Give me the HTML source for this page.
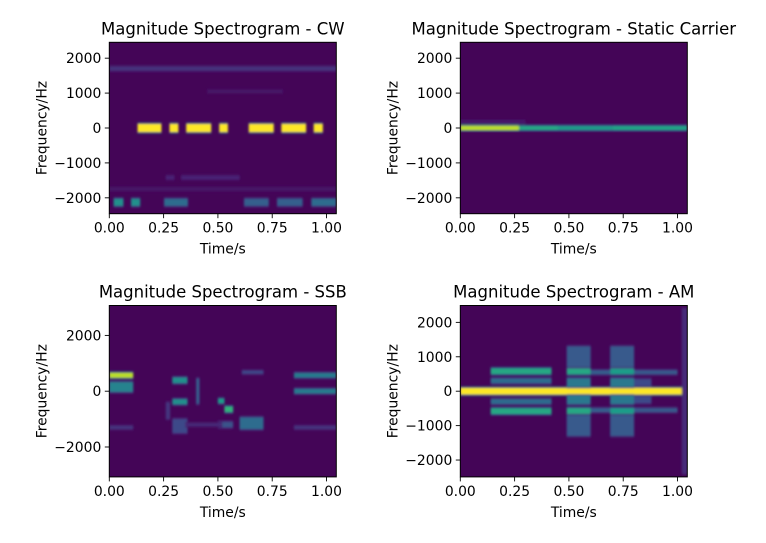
<!DOCTYPE html>
<html><head><meta charset="utf-8">
<style>
html,body{margin:0;padding:0;background:#fff;}
svg{display:block;font-family:"DejaVu Sans","Liberation Sans",sans-serif;}
</style></head>
<body>
<svg id="fig" width="766" height="543" viewBox="0 0 766 543" xmlns="http://www.w3.org/2000/svg">
<defs>
<filter id="blur" x="-5%" y="-5%" width="110%" height="110%"><feGaussianBlur stdDeviation="1.1"/></filter>
</defs>
</svg>
<script>
// ---- shared axis data ----
const timeTicks = [0, 0.25, 0.5, 0.75, 1.0];
const timeTickLabels = ["0.00", "0.25", "0.50", "0.75", "1.00"];
const timeMax = 1.045;

// ---- CW panel ----
const cwStart = [0.13, 0.277, 0.354, 0.506, 0.642, 0.792, 0.941, 0.02, 0.10, 0.252, 0.62, 0.772, 0.93, 0.0, 0.26, 0.33, 0.45, 0.0];
const cwEnd   = [0.24, 0.318, 0.469, 0.546, 0.757, 0.906, 0.983, 0.065, 0.142, 0.362, 0.734, 0.89, 1.045, 1.045, 0.30, 0.60, 0.80, 1.045];
const cwFreq  = [0, 0, 0, 0, 0, 0, 0, -2130, -2130, -2130, -2130, -2130, -2130, 1700, -1420, -1420, 1050, -1750];
const cwBand  = [230, 230, 230, 230, 230, 230, 230, 200, 200, 200, 200, 200, 200, 120, 110, 110, 90, 90];
const cwLevel = [1.0, 1.0, 1.0, 1.0, 1.0, 1.0, 1.0, 0.5, 0.5, 0.35, 0.3, 0.3, 0.35, 0.14, 0.1, 0.1, 0.06, 0.06];
const cwYTicks = [-2000, -1000, 0, 1000, 2000];

// ---- Static carrier panel ----
const stStart = [0.0, 0.27, 0.45, 0.7, 0.0];
const stEnd   = [0.27, 0.45, 0.7, 1.045, 0.3];
const stFreq  = [0, 0, 0, 0, 180];
const stBand  = [130, 120, 120, 120, 60];
const stLevel = [0.9, 0.6, 0.55, 0.58, 0.08];
const stYTicks = [-2000, -1000, 0, 1000, 2000];

// ---- SSB panel ----
const ssbStart = [0.0, 0.0, 0.0, 0.29, 0.29, 0.29, 0.40, 0.50, 0.53, 0.50, 0.60, 0.61, 0.85, 0.85, 0.85, 0.35, 0.26];
const ssbEnd   = [0.11, 0.11, 0.11, 0.36, 0.36, 0.36, 0.415, 0.53, 0.57, 0.57, 0.71, 0.71, 1.045, 1.045, 1.045, 0.52, 0.28];
const ssbFreq  = [570, 150, -1300, 390, -380, -1250, 0, -350, -650, -1200, -1150, 680, 570, 0, -1300, -1200, -700];
const ssbBand  = [180, 350, 120, 200, 180, 500, 900, 160, 200, 200, 420, 100, 160, 160, 120, 100, 600];
const ssbLevel = [0.9, 0.45, 0.15, 0.5, 0.5, 0.22, 0.3, 0.55, 0.65, 0.25, 0.35, 0.22, 0.42, 0.42, 0.15, 0.12, 0.15];
const ssbYTicks = [-2000, 0, 2000];

// ---- AM panel ----
const amStart = [0.0, 0.14, 0.14, 0.14, 0.14, 0.49, 0.49, 0.49, 0.49, 0.49, 0.49, 0.69, 0.69, 0.69, 0.69, 0.69, 0.69, 0.60, 0.60, 0.80, 0.80, 0.80, 0.80, 1.02];
const amEnd   = [1.045, 0.42, 0.42, 0.42, 0.42, 0.60, 0.60, 0.60, 0.60, 0.60, 0.60, 0.80, 0.80, 0.80, 0.80, 0.80, 0.80, 0.69, 0.69, 1.0, 1.0, 0.88, 0.88, 1.045];
const amFreq  = [0, 580, -580, 300, -300, 580, -580, 1000, -1000, 250, -250, 580, -580, 1000, -1000, 250, -250, 550, -550, 550, -550, 250, -250, 0];
const amBand  = [190, 170, 170, 140, 140, 180, 180, 600, 600, 250, 250, 180, 180, 600, 600, 250, 250, 110, 110, 110, 110, 200, 200, 4800];
const amLevel = [1.0, 0.6, 0.6, 0.35, 0.35, 0.6, 0.6, 0.28, 0.28, 0.4, 0.4, 0.55, 0.55, 0.28, 0.28, 0.4, 0.4, 0.3, 0.3, 0.28, 0.28, 0.22, 0.22, 0.12];
const amYTicks = [-2000, -1000, 0, 1000, 2000];

const viridis = [[68,1,84],[72,40,120],[62,74,137],[49,104,142],[38,130,142],[31,158,137],[53,183,121],[109,205,89],[180,222,44],[253,231,37]];
function vcol(v){
  v = Math.max(0, Math.min(1, v));
  const p = v*(viridis.length-1), i = Math.min(viridis.length-2, Math.floor(p)), f = p-i;
  const a = viridis[i], b = viridis[i+1];
  return `rgb(${Math.round(a[0]+(b[0]-a[0])*f)},${Math.round(a[1]+(b[1]-a[1])*f)},${Math.round(a[2]+(b[2]-a[2])*f)})`;
}
const NS = "http://www.w3.org/2000/svg";
const svg = document.getElementById('fig');
function mk(tag, attrs, parent){
  const e = document.createElementNS(NS, tag);
  for (const k in attrs) e.setAttribute(k, attrs[k]);
  (parent||svg).appendChild(e);
  return e;
}

function panel(key, ox, oy, w, h, fmax, title, starts, ends, freqs, bands, levels, yticks){
  const g = mk('g', {});
  
  
  const xs = t => ox + t / timeMax * w;
  const ys = f => oy + h/2 - f / fmax * (h/2);
  const clipId = 'clip-' + key;
  const cp = mk('clipPath', {id: clipId}, g);
  mk('rect', {x: ox, y: oy, width: w, height: h}, cp);
  const bg = mk('rect', {x: ox, y: oy, width: w, height: h, fill: vcol(0.01)}, g);
  
  
  const marks = mk('g', {'clip-path': `url(#${clipId})`}, g);
  const inner = mk('g', {filter: 'url(#blur)'}, marks);
  for (let i = 0; i < starts.length; i++){
    const x0 = xs(starts[i]), x1 = xs(ends[i]);
    const yTop = ys(freqs[i] + bands[i]/2), yBot = ys(freqs[i] - bands[i]/2);
    const halo = mk('rect', {x: x0, y: yTop - 1.5, width: x1 - x0, height: (yBot - yTop) + 3, fill: vcol(levels[i]*0.5), 'fill-opacity': 0.8}, inner);
    
    
    const r = mk('rect', {x: x0, y: yTop, width: x1 - x0, height: Math.max(1, yBot - yTop), fill: vcol(levels[i])}, inner);
    
    
  }
  mk('rect', {x: ox, y: oy, width: w, height: h, fill: 'none', stroke: '#000', 'stroke-width': 1}, g);
  for (let i = 0; i < timeTicks.length; i++){
    const x = xs(timeTicks[i]);
    mk('line', {x1: x, x2: x, y1: oy+h, y2: oy+h+4.5, stroke: '#000', 'stroke-width': 0.9}, g);
    const t = mk('text', {x: x, y: oy+h+19, 'font-size': 13.9, 'text-anchor': 'middle', fill: '#000'}, g);
    t.textContent = timeTickLabels[i];
    
    
  }
  for (let i = 0; i < yticks.length; i++){
    const y = ys(yticks[i]);
    mk('line', {x1: ox-4.5, x2: ox, y1: y, y2: y, stroke: '#000', 'stroke-width': 0.9}, g);
    const t = mk('text', {x: ox-8, y: y+5, 'font-size': 13.9, 'text-anchor': 'end', fill: '#000'}, g);
    t.textContent = yticks[i] < 0 ? '\u2212' + Math.abs(yticks[i]) : String(yticks[i]);
    
    
  }
  const tt = mk('text', {x: ox + w/2, y: oy - 8, 'font-size': 16.5, 'text-anchor': 'middle', fill: '#000'}, g);
  tt.textContent = title;
  
  
  const xl = mk('text', {x: ox + w/2, y: oy + h + 40, 'font-size': 13.9, 'text-anchor': 'middle', fill: '#000'}, g);
  xl.textContent = 'Time/s';
  
  
  const yx = ox - 63, yy = oy + h/2;
  const yl = mk('text', {x: yx, y: yy, 'font-size': 13.9, 'text-anchor': 'middle', fill: '#000', transform: `rotate(-90 ${yx} ${yy})`}, g);
  yl.textContent = 'Frequency/Hz';
  
  
}

panel('cw', 109.3, 42.3, 227, 171.4, 2455, 'Magnitude Spectrogram - CW', cwStart, cwEnd, cwFreq, cwBand, cwLevel, cwYTicks);
panel('static', 460.3, 42.3, 227, 171.4, 2455, 'Magnitude Spectrogram - Static Carrier', stStart, stEnd, stFreq, stBand, stLevel, stYTicks);
panel('ssb', 109.3, 305.5, 227, 171.4, 3072, 'Magnitude Spectrogram - SSB', ssbStart, ssbEnd, ssbFreq, ssbBand, ssbLevel, ssbYTicks);
panel('am', 460.3, 305.5, 227, 171.4, 2490, 'Magnitude Spectrogram - AM', amStart, amEnd, amFreq, amBand, amLevel, amYTicks);
</script>
</body></html>
